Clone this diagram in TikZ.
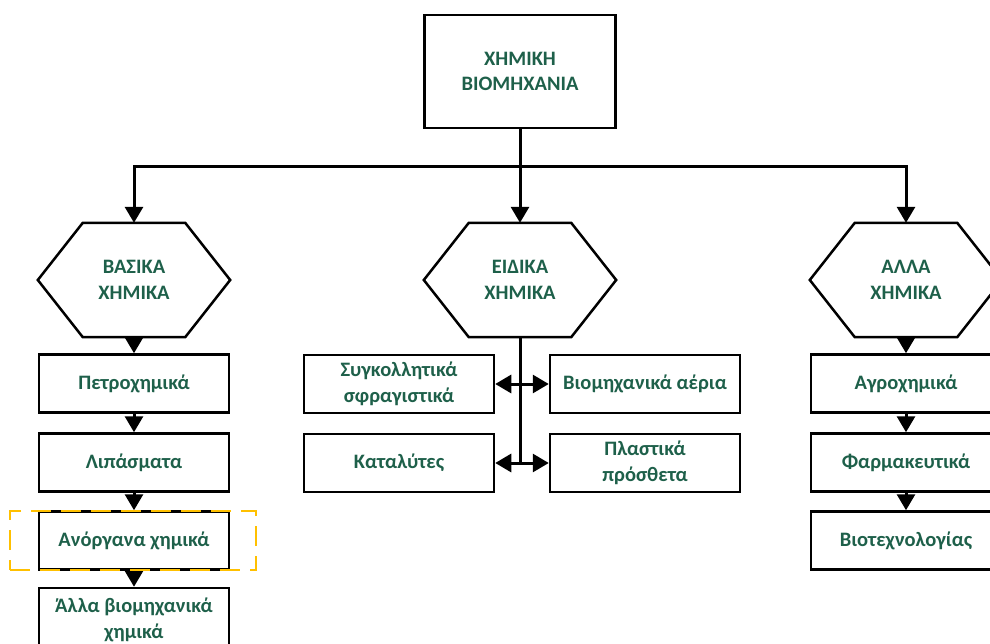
\documentclass[tikz,border=0pt]{standalone}
\usepackage{fontspec}
\setmainfont{Carlito}
\usetikzlibrary{arrows.meta}
\definecolor{txt}{RGB}{30,96,74}
\definecolor{hlyellow}{RGB}{255,192,0}

% outline of a flat hexagon around a (borderless) rectangular node
\newcommand\hexoutline[1]{%
  \draw[line width=2.5pt, line join=miter]
    ([xshift=45pt]#1.north west) -- ([xshift=-45pt]#1.north east) -- (#1.east)
    -- ([xshift=-45pt]#1.south east) -- ([xshift=45pt]#1.south west) -- (#1.west) -- cycle;}

\begin{document}
\begin{tikzpicture}[x=1pt,y=1pt,
  every node/.append style={font=\bfseries\fontsize{20.5}{25.5}\selectfont, text=txt, align=center},
  box/.style={draw=black, line width=2.5pt, minimum width=190pt, minimum height=58pt, inner sep=0pt, fill=white},
  hexbase/.style={minimum width=192pt, minimum height=114pt, inner sep=0pt},
  link/.style={line width=3pt, draw=black, line join=miter},
  tip/.tip={Triangle[width=18pt,length=16pt]},
  arr/.style={link, -tip},
  biarr/.style={link, tip-tip},
  hl/.style={draw=hlyellow, line width=2.5pt, dash pattern=on 20pt off 10pt,
             minimum width=246pt, minimum height=59pt, inner sep=0pt}
]
\useasboundingbox (0,0) rectangle (990,-644);
\clip (0,0) rectangle (990,-644);

% root
\node[box, minimum width=191pt, minimum height=113pt] (top) at (520,-71.5) {ΧΗΜΙΚΗ\\ΒΙΟΜΗΧΑΝΙΑ};

% three categories
\node[hexbase] (h1) at (134,-280) {ΒΑΣΙΚΑ\\ΧΗΜΙΚΑ};
\node[hexbase] (h2) at (520,-280) {ΕΙΔΙΚΑ\\ΧΗΜΙΚΑ};
\node[hexbase] (h3) at (906,-280) {ΑΛΛΑ\\ΧΗΜΙΚΑ};
\hexoutline{h1}
\hexoutline{h2}
\hexoutline{h3}

% basic chemicals
\node[box] (l1) at (134,-383.5) {Πετροχημικά};
\node[box] (l2) at (134,-462.5) {Λιπάσματα};
\node[box] (l3) at (134,-540.5) {Ανόργανα χημικά};
\node[box, minimum height=64pt] (l4) at (134,-620) {Άλλα βιομηχανικά\\χημικά};

% specialty chemicals
\node[box] (c1) at (399,-384) {Συγκολλητικά\\σφραγιστικά};
\node[box] (c2) at (645,-384) {Βιομηχανικά αέρια};
\node[box] (c3) at (399,-463) {Καταλύτες};
\node[box] (c4) at (645,-463) {Πλαστικά\\πρόσθετα};

% other chemicals
\node[box] (r1) at (906,-383.5) {Αγροχημικά};
\node[box] (r2) at (906,-462.5) {Φαρμακευτικά};
\node[box] (r3) at (906,-540.5) {Βιοτεχνολογίας};

% distribution bus
\coordinate (bus) at (520,-167);
\draw[link] (top.south) -- (bus);
\draw[arr] (bus) -- (h2.north);
\draw[arr] (bus) -| (h1.north);
\draw[arr] (bus) -| (h3.north);

% left column chain
\draw[arr] (h1.south) -- (l1.north);
\draw[arr] (l1.south) -- (l2.north);
\draw[arr] (l2.south) -- (l3.north);
\draw[arr] (l3.south) -- (l4.north);

% centre stem with branches
\draw[link] (h2.south) -- (h2.south |- c3.east);
\draw[biarr] (c1.east) -- (c2.west);
\draw[biarr] (c3.east) -- (c4.west);

% right column chain
\draw[arr] (h3.south) -- (r1.north);
\draw[arr] (r1.south) -- (r2.north);
\draw[arr] (r2.south) -- (r3.north);

% highlight frame
\node[hl] (focus) at (133,-540.5) {};
\end{tikzpicture}
\end{document}
